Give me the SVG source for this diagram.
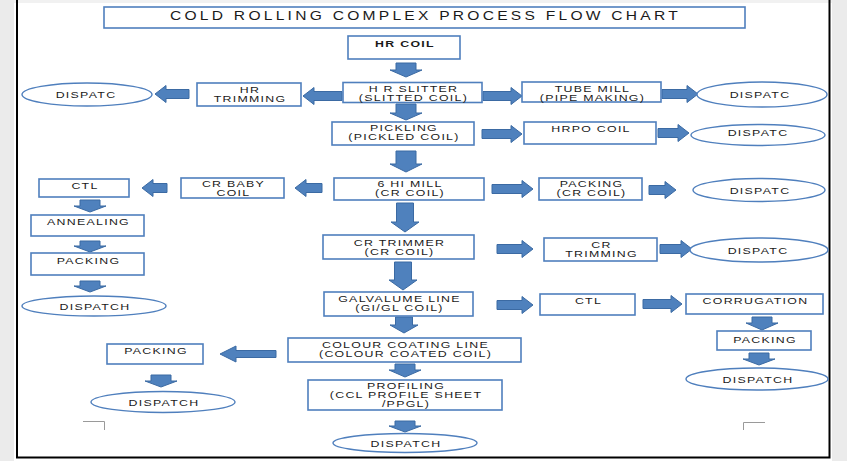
<svg xmlns="http://www.w3.org/2000/svg" width="847" height="461" viewBox="0 0 847 461">
<style>
.box{fill:#fff;stroke:#4f7fbd;stroke-width:1.6}
.ell{fill:#fff;stroke:#4f7fbd;stroke-width:1.4}
.arr{fill:#4f81bd;stroke:#3b6aa3;stroke-width:1}
.t{font-family:"Liberation Sans",Arial,sans-serif;font-size:9.5px;letter-spacing:1px;fill:#1a1a1a;text-anchor:middle}
.b{font-weight:bold}
.title{font-family:"Liberation Sans",Arial,sans-serif;font-size:12px;letter-spacing:2.5px;fill:#1a1a1a;text-anchor:middle}
.frame{stroke:#000;stroke-width:2;fill:none}
.mark{stroke:#9a9a9a;stroke-width:1;fill:none}
</style>
<rect width="847" height="461" fill="#fff"/>
<rect x="0" y="0" width="14" height="461" fill="#ebebeb"/>
<rect x="832" y="0" width="15" height="461" fill="#ebebeb"/>
<rect x="14" y="0" width="818" height="3" fill="#f1f1f1"/>
<g id="frame">
<path class="frame" d="M17 0 V457.5 H829.5 V0"/>
<path class="mark" d="M83 421.5 H104.5 V430"/>
<path class="mark" d="M765 422.5 H743.5 V430"/>
</g>
<g id="connectors">
<path class="arr" d="M396 63 H416 V70 H422 L406 77 L390 70 H396 Z"/>
<path class="arr" d="M396 104 H416 V113 H422 L406 120 L390 113 H396 Z"/>
<path class="arr" d="M396 151 H416 V164 H422 L406 172 L390 164 H396 Z"/>
<path class="arr" d="M396.5 203 H413.5 V222 H419 L405 232 L391 222 H396.5 Z"/>
<path class="arr" d="M394.5 262 H411.5 V280 H417 L403 290 L389 280 H394.5 Z"/>
<path class="arr" d="M395.5 317 H412.5 V325 H418 L404 333 L390 325 H395.5 Z"/>
<path class="arr" d="M395 364 H415 V370 H421 L405 377 L389 370 H395 Z"/>
<path class="arr" d="M395 421 H415 V426 H421 L405 432 L389 426 H395 Z"/>
<path class="arr" d="M80 200 H100 V206 H106 L90 212 L74 206 H80 Z"/>
<path class="arr" d="M80 241 H100 V246 H106 L90 252 L74 246 H80 Z"/>
<path class="arr" d="M80 281 H100 V286 H106 L90 292 L74 286 H80 Z"/>
<path class="arr" d="M752 317 H772 V323 H778 L762 330 L746 323 H752 Z"/>
<path class="arr" d="M749 353 H769 V359 H775 L759 365 L743 359 H749 Z"/>
<path class="arr" d="M151 375 H171 V381 H177 L161 387 L145 381 H151 Z"/>
<path class="arr" d="M342 91.5 H314 V87.5 L303 96 L314 104.5 V100.5 H342 Z"/>
<path class="arr" d="M189 89.5 H166 V85.5 L155 94 L166 102.5 V98.5 H189 Z"/>
<path class="arr" d="M483 91.5 H511 V87.5 L522 96 L511 104.5 V100.5 H483 Z"/>
<path class="arr" d="M662 89.5 H687 V85.5 L698 94 L687 102.5 V98.5 H662 Z"/>
<path class="arr" d="M482 129.5 H511 V125.5 L522 134 L511 142.5 V138.5 H482 Z"/>
<path class="arr" d="M658 128.5 H678 V124.5 L689 133 L678 141.5 V137.5 H658 Z"/>
<path class="arr" d="M322 183.5 H306 V179.5 L295 188 L306 196.5 V192.5 H322 Z"/>
<path class="arr" d="M167 183.5 H153 V179.5 L142 188 L153 196.5 V192.5 H167 Z"/>
<path class="arr" d="M492 184.5 H522 V180.5 L533 189 L522 197.5 V193.5 H492 Z"/>
<path class="arr" d="M649 185.5 H665 V181.5 L676 190 L665 198.5 V194.5 H649 Z"/>
<path class="arr" d="M497 244.5 H522 V240.5 L533 249 L522 257.5 V253.5 H497 Z"/>
<path class="arr" d="M660 244.5 H681 V240.5 L692 249 L681 257.5 V253.5 H660 Z"/>
<path class="arr" d="M497 300.5 H522 V296.5 L533 305 L522 313.5 V309.5 H497 Z"/>
<path class="arr" d="M643 299.5 H671 V295.5 L682 304 L671 312.5 V308.5 H643 Z"/>
<path class="arr" d="M276 350.5 H236 V346 L220 354 L236 362 V357.5 H276 Z"/>
</g>
<g id="title"><rect class="box" x="104" y="7" width="641" height="21"/><text class="title" transform="translate(425.5 20) scale(1.3 1)">COLD ROLLING COMPLEX PROCESS FLOW CHART</text></g>
<g id="hr-coil"><rect class="box" x="348" y="36" width="112" height="23"/><text class="t b" transform="translate(405 47) scale(1.3 1)">HR COIL</text></g>
<g id="hr-slitter"><rect class="box" x="343" y="82.5" width="139" height="20"/><text class="t" transform="translate(413.5 91.5) scale(1.3 1)">H R SLITTER</text><text class="t" transform="translate(413.5 100.5) scale(1.3 1)">(SLITTED COIL)</text></g>
<g id="hr-trimming"><rect class="box" x="197" y="83" width="104" height="23"/><text class="t" transform="translate(250 92.5) scale(1.3 1)">HR</text><text class="t" transform="translate(250 102) scale(1.3 1)">TRIMMING</text></g>
<g id="dispatc-1"><ellipse class="ell" cx="87" cy="94.5" rx="65" ry="11.5"/><text class="t" transform="translate(86 98) scale(1.3 1)">DISPATC</text></g>
<g id="tube-mill"><rect class="box" x="522" y="82" width="139" height="20"/><text class="t" transform="translate(592.5 91.5) scale(1.3 1)">TUBE MILL</text><text class="t" transform="translate(592.5 100.5) scale(1.3 1)">(PIPE MAKING)</text></g>
<g id="dispatc-2"><ellipse class="ell" cx="762" cy="94.5" rx="65" ry="12.5"/><text class="t" transform="translate(760 98) scale(1.3 1)">DISPATC</text></g>
<g id="pickling"><rect class="box" x="332" y="122" width="142" height="23"/><text class="t" transform="translate(404 130.5) scale(1.3 1)">PICKLING</text><text class="t" transform="translate(404 139.5) scale(1.3 1)">(PICKLED COIL)</text></g>
<g id="hrpo-coil"><rect class="box" x="524" y="122" width="132" height="22"/><text class="t" transform="translate(591 131.5) scale(1.3 1)">HRPO COIL</text></g>
<g id="dispatc-3"><ellipse class="ell" cx="758" cy="135" rx="67" ry="10.5"/><text class="t" transform="translate(758 136) scale(1.3 1)">DISPATC</text></g>
<g id="six-hi-mill"><rect class="box" x="334" y="178" width="150" height="22"/><text class="t" transform="translate(410 187) scale(1.3 1)">6 HI MILL</text><text class="t" transform="translate(410 196) scale(1.3 1)">(CR COIL)</text></g>
<g id="cr-baby-coil"><rect class="box" x="181" y="178" width="103" height="20"/><text class="t" transform="translate(233.5 187) scale(1.3 1)">CR BABY</text><text class="t" transform="translate(233.5 196) scale(1.3 1)">COIL</text></g>
<g id="ctl-1"><rect class="box" x="39" y="179" width="90" height="18"/><text class="t" transform="translate(85 188.5) scale(1.3 1)">CTL</text></g>
<g id="annealing"><rect class="box" x="31" y="215" width="113" height="21"/><text class="t" transform="translate(88.5 225) scale(1.3 1)">ANNEALING</text></g>
<g id="packing-1"><rect class="box" x="31" y="253" width="113" height="22"/><text class="t" transform="translate(88.5 263.5) scale(1.3 1)">PACKING</text></g>
<g id="dispatch-1"><ellipse class="ell" cx="94" cy="306" rx="72" ry="10"/><text class="t" transform="translate(95 310) scale(1.3 1)">DISPATCH</text></g>
<g id="packing-cr"><rect class="box" x="539" y="178" width="103" height="22"/><text class="t" transform="translate(591.5 187) scale(1.3 1)">PACKING</text><text class="t" transform="translate(591.5 196) scale(1.3 1)">(CR COIL)</text></g>
<g id="dispatc-4"><ellipse class="ell" cx="759" cy="190" rx="66" ry="11.5"/><text class="t" transform="translate(760 193.5) scale(1.3 1)">DISPATC</text></g>
<g id="cr-trimmer"><rect class="box" x="323" y="235" width="151" height="24"/><text class="t" transform="translate(399.5 246) scale(1.3 1)">CR TRIMMER</text><text class="t" transform="translate(399.5 255) scale(1.3 1)">(CR COIL)</text></g>
<g id="cr-trimming"><rect class="box" x="544" y="238" width="113" height="23"/><text class="t" transform="translate(601.5 248) scale(1.3 1)">CR</text><text class="t" transform="translate(601.5 257) scale(1.3 1)">TRIMMING</text></g>
<g id="dispatc-5"><ellipse class="ell" cx="759" cy="250" rx="69" ry="12"/><text class="t" transform="translate(758 253.5) scale(1.3 1)">DISPATC</text></g>
<g id="galvalume"><rect class="box" x="324" y="292" width="149" height="24"/><text class="t" transform="translate(399.5 302) scale(1.3 1)">GALVALUME LINE</text><text class="t" transform="translate(399.5 311) scale(1.3 1)">(GI/GL COIL)</text></g>
<g id="ctl-2"><rect class="box" x="540" y="294" width="95" height="21"/><text class="t" transform="translate(588.5 303.5) scale(1.3 1)">CTL</text></g>
<g id="corrugation"><rect class="box" x="686" y="294" width="137" height="20"/><text class="t" transform="translate(755.5 303.5) scale(1.3 1)">CORRUGATION</text></g>
<g id="packing-2"><rect class="box" x="717" y="331" width="94" height="19"/><text class="t" transform="translate(765 343) scale(1.3 1)">PACKING</text></g>
<g id="dispatch-2"><ellipse class="ell" cx="757" cy="379" rx="71" ry="11"/><text class="t" transform="translate(758 383) scale(1.3 1)">DISPATCH</text></g>
<g id="colour-coating"><rect class="box" x="288" y="338" width="233" height="24"/><text class="t" transform="translate(405.5 348) scale(1.3 1)">COLOUR COATING LINE</text><text class="t" transform="translate(405.5 357) scale(1.3 1)">(COLOUR COATED COIL)</text></g>
<g id="packing-3"><rect class="box" x="107" y="344" width="96" height="20"/><text class="t" transform="translate(156 354) scale(1.3 1)">PACKING</text></g>
<g id="dispatch-3"><ellipse class="ell" cx="163" cy="402" rx="72" ry="10.5"/><text class="t" transform="translate(164 405.5) scale(1.3 1)">DISPATCH</text></g>
<g id="profiling"><rect class="box" x="308" y="380" width="194" height="30"/><text class="t" transform="translate(406 389) scale(1.3 1)">PROFILING</text><text class="t" transform="translate(406 398) scale(1.3 1)">(CCL PROFILE SHEET</text><text class="t" transform="translate(406 407) scale(1.3 1)">/PPGL)</text></g>
<g id="dispatch-4"><ellipse class="ell" cx="405" cy="443" rx="72" ry="9.5"/><text class="t" transform="translate(406 446.5) scale(1.3 1)">DISPATCH</text></g>
</svg>
